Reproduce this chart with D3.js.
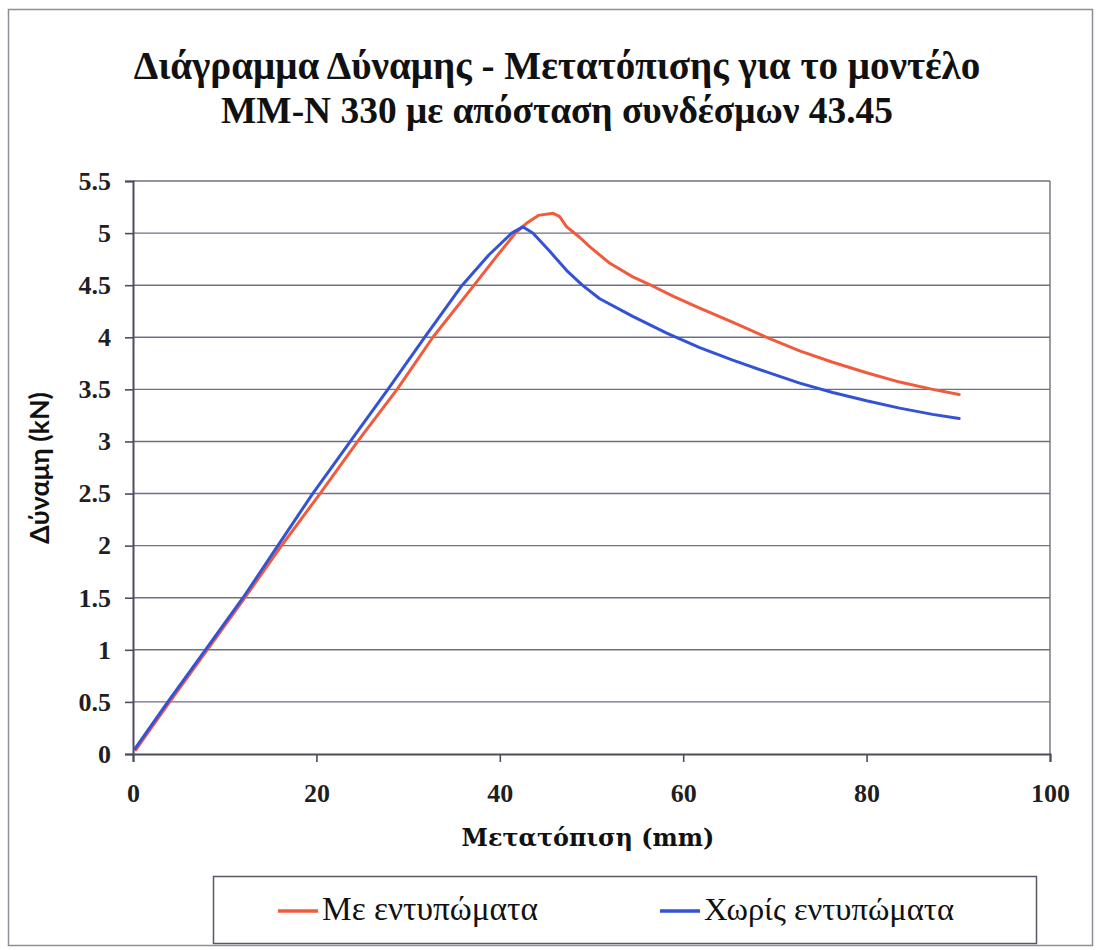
<!DOCTYPE html>
<html>
<head>
<meta charset="utf-8">
<script src="https://cdn.jsdelivr.net/npm/d3@7"></script>
<style>
  html, body { margin: 0; padding: 0; background: #ffffff; }
  svg { display: block; }
</style>
</head>
<body>
<svg id="chart" width="1097" height="950"></svg>
<script>
// Force–displacement measurements (displacement in mm, force in kN)
const withX = [0.3, 4.0, 8.1, 12.2, 16.2, 20.4, 24.5, 28.8, 32.7, 37.2, 39.5, 41.7, 43.0, 44.2, 45.8, 46.5, 47.3, 48.7, 49.8, 52.0, 54.5, 56.7, 59.0, 61.8, 65.5, 69.1, 72.7, 76.3, 80.0, 83.6, 87.2, 90.1];
const withY = [0.04, 0.5, 1.0, 1.5, 2.0, 2.5, 3.0, 3.5, 4.0, 4.5, 4.76, 5.0, 5.1, 5.17, 5.19, 5.16, 5.06, 4.96, 4.87, 4.71, 4.58, 4.49, 4.39, 4.28, 4.14, 4.0, 3.87, 3.76, 3.66, 3.57, 3.50, 3.45];

const withoutX = [0.2, 3.8, 7.9, 12.0, 15.8, 19.6, 23.7, 27.8, 31.8, 35.9, 38.8, 41.3, 42.5, 43.6, 45.5, 47.3, 49.0, 50.9, 54.5, 58.2, 61.8, 65.4, 69.0, 72.7, 76.3, 80.0, 83.6, 87.2, 90.1];
const withoutY = [0.05, 0.5, 1.0, 1.5, 2.0, 2.5, 3.0, 3.5, 4.0, 4.5, 4.79, 5.0, 5.06, 5.0, 4.82, 4.64, 4.5, 4.37, 4.2, 4.04, 3.9, 3.78, 3.67, 3.56, 3.47, 3.39, 3.32, 3.26, 3.22];

const seriesNames = ["Με εντυπώματα", "Χωρίς εντυπώματα"];
const seriesColors = ["#f25a3c", "#3352d6"];

const xTicks = [0, 20, 40, 60, 80, 100];
const yTicks = [0, 0.5, 1, 1.5, 2, 2.5, 3, 3.5, 4, 4.5, 5, 5.5];

const titleLines = ["Διάγραμμα Δύναμης - Μετατόπισης για το μοντέλο", "MM-N 330 με απόσταση συνδέσμων 43.45"];
const xTitle = "Μετατόπιση (mm)";
const yTitle = "Δύναμη (kN)";

const series = [
  { name: seriesNames[0], color: seriesColors[0], pts: withX.map((x, i) => [x, withY[i]]) },
  { name: seriesNames[1], color: seriesColors[1], pts: withoutX.map((x, i) => [x, withoutY[i]]) }
];

const svg = d3.select("#chart");
const plot = { left: 133, right: 1050, top: 181, bottom: 754 };

const x = d3.scaleLinear().domain([0, 100]).range([plot.left, plot.right]);
const y = d3.scaleLinear().domain([0, 5.5]).range([plot.bottom, plot.top]);

const gridColor = "#6e7183";
const axisColor = "#4a4d5e";
const serif = "'Liberation Serif', 'DejaVu Serif', serif";

// outer frame
svg.append("rect")
  .attr("x", 8.5).attr("y", 9.5).attr("width", 1084).attr("height", 936)
  .attr("fill", "#ffffff").attr("stroke", "#8c8e9a").attr("stroke-width", 1.5);

// fit a text element to a given width by adjusting font size
function fitWidth(sel, width) {
  const node = sel.node();
  const fs = parseFloat(sel.attr("font-size"));
  const w = node.getComputedTextLength();
  sel.attr("font-size", (fs * width / w).toFixed(2));
}

// title
const titleWidths = [847, 672];
titleLines.forEach((t, i) => {
  const el = svg.append("text")
    .attr("x", 557).attr("y", 79 + i * 44)
    .attr("text-anchor", "middle")
    .attr("font-family", serif).attr("font-weight", "bold")
    .attr("font-size", 30).attr("fill", "#111")
    .text(t);
  fitWidth(el, titleWidths[i]);
});

// horizontal gridlines
svg.append("g")
  .selectAll("line")
  .data(yTicks.filter(d => d > 0))
  .join("line")
  .attr("x1", plot.left).attr("x2", plot.right)
  .attr("y1", d => y(d)).attr("y2", d => y(d))
  .attr("stroke", gridColor).attr("stroke-width", 1.4);

// right edge of plot area
svg.append("line")
  .attr("x1", plot.right).attr("x2", plot.right)
  .attr("y1", plot.top).attr("y2", plot.bottom)
  .attr("stroke", gridColor).attr("stroke-width", 1.4);

// axes
const xAxis = d3.axisBottom(x).tickValues(xTicks).tickSize(8).tickPadding(22).tickFormat(d3.format("d"));
const yAxis = d3.axisLeft(y).tickValues(yTicks).tickSize(8).tickPadding(14).tickFormat(d => String(d));

const gx = svg.append("g").attr("transform", `translate(0,${plot.bottom})`).call(xAxis);
const gy = svg.append("g").attr("transform", `translate(${plot.left},0)`).call(yAxis);

[gx, gy].forEach(g => {
  g.select(".domain").attr("stroke", axisColor).attr("stroke-width", 2);
  g.selectAll(".tick line").attr("stroke", axisColor).attr("stroke-width", 1.6);
  g.selectAll(".tick text")
    .attr("font-family", serif).attr("font-weight", "bold")
    .attr("font-size", 26).attr("fill", "#1f1f1f");
});
gx.selectAll(".tick text").attr("dy", "0.7em");

// series lines
const line = d3.line().x(d => x(d[0])).y(d => y(d[1])).curve(d3.curveLinear);
svg.append("g")
  .selectAll("path")
  .data(series)
  .join("path")
  .attr("d", d => line(d.pts))
  .attr("fill", "none")
  .attr("stroke", d => d.color)
  .attr("stroke-width", 3)
  .attr("stroke-linejoin", "round")
  .attr("stroke-linecap", "round");

// axis titles
const xt = svg.append("text")
  .attr("x", 588).attr("y", 846)
  .attr("text-anchor", "middle")
  .attr("font-family", "'DejaVu Serif', serif").attr("font-weight", "bold")
  .attr("font-size", 22).attr("fill", "#111")
  .text(xTitle);
fitWidth(xt, 253);

const yt = svg.append("text")
  .attr("transform", "translate(49,468) rotate(-90)")
  .attr("text-anchor", "middle")
  .attr("font-family", "Lato, 'Open Sans', sans-serif").attr("font-weight", "bold")
  .attr("font-size", 22).attr("fill", "#111")
  .text(yTitle);
fitWidth(yt, 152);

// legend
const legend = svg.append("g");
legend.append("rect")
  .attr("x", 213.5).attr("y", 876.5).attr("width", 823).attr("height", 67)
  .attr("fill", "#ffffff").attr("stroke", "#55586a").attr("stroke-width", 1.5);

const legendItems = [
  { x: 278, textW: 216 },
  { x: 660, textW: 250 }
];
series.forEach((s, i) => {
  const it = legendItems[i];
  legend.append("line")
    .attr("x1", it.x).attr("x2", it.x + 40)
    .attr("y1", 911).attr("y2", 911)
    .attr("stroke", s.color).attr("stroke-width", 3.5);
  const t = legend.append("text")
    .attr("x", it.x + 44).attr("y", 920)
    .attr("font-family", serif)
    .attr("font-size", 26).attr("fill", "#111")
    .text(s.name);
  fitWidth(t, it.textW);
});
</script>
</body>
</html>
